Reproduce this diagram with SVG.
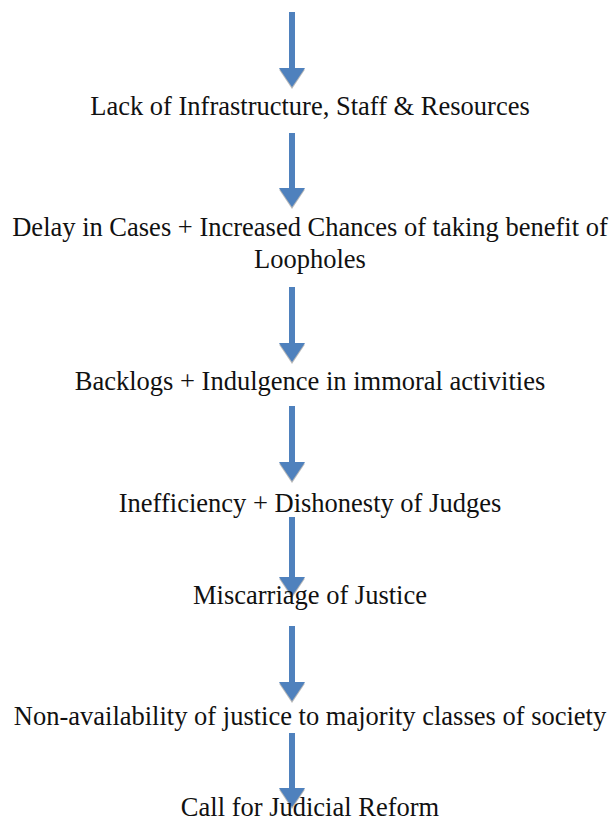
<svg xmlns="http://www.w3.org/2000/svg" width="615" height="822" viewBox="0 0 615 822">
<style>
text{font-family:'Liberation Serif','DejaVu Serif',serif;font-size:26.5px;fill:#111;text-anchor:middle}
.shaft{fill:#4f81bd}
.head{fill:#4f81bd}
.shadow{fill:#b8b8b8}
</style>
<defs>
<g id="arrow">
<polygon class="shadow" points="-13,1.5 13,1.5 0,21"/>
<polygon class="head" points="-13,0 13,0 0,19"/>
</g>
</defs>
<g id="connectors">
<g id="a1"><rect class="shaft" x="289" y="12" width="6" height="57"/><use href="#arrow" x="292" y="68"/></g>
<g id="a2"><rect class="shaft" x="289" y="133" width="6" height="56"/><use href="#arrow" x="292" y="188"/></g>
<g id="a3"><rect class="shaft" x="289" y="287" width="6" height="57"/><use href="#arrow" x="292" y="343"/></g>
<g id="a4"><rect class="shaft" x="289" y="406" width="6" height="57"/><use href="#arrow" x="292" y="462"/></g>
<g id="a5"><rect class="shaft" x="289" y="517" width="6" height="61"/><use href="#arrow" x="292" y="577"/></g>
<g id="a6"><rect class="shaft" x="289" y="626" width="6" height="57"/><use href="#arrow" x="292" y="682"/></g>
<g id="a7"><rect class="shaft" x="289" y="733" width="6" height="56"/><use href="#arrow" x="292" y="788"/></g>
</g>
<g id="n1"><text x="310" y="115" font-family="Liberation Serif">Lack of Infrastructure, Staff &amp; Resources</text></g>
<g id="n2"><text x="310" y="236" font-family="Liberation Serif">Delay in Cases + Increased Chances of taking benefit of</text><text x="310" y="268" font-family="Liberation Serif">Loopholes</text></g>
<g id="n3"><text x="310" y="390" font-family="Liberation Serif">Backlogs + Indulgence in immoral activities</text></g>
<g id="n4"><text x="310" y="512" font-family="Liberation Serif">Inefficiency + Dishonesty of Judges</text></g>
<g id="n5"><text x="310" y="604" font-family="Liberation Serif">Miscarriage of Justice</text></g>
<g id="n6"><text x="310" y="725" font-family="Liberation Serif">Non-availability of justice to majority classes of society</text></g>
<g id="n7"><text x="310" y="816" font-family="Liberation Serif">Call for Judicial Reform</text></g>
</svg>
